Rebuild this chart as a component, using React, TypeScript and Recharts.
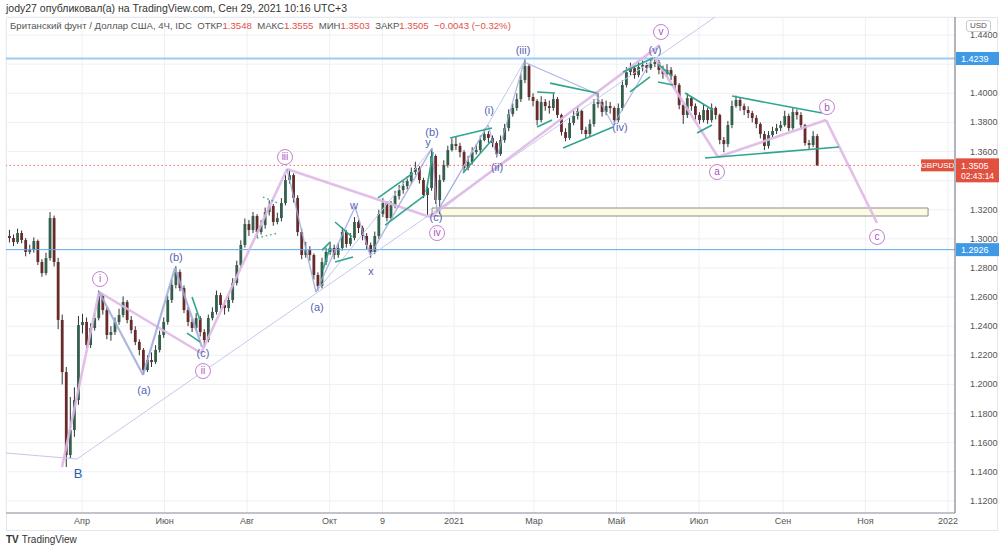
import React from 'react';
import {
  ComposedChart,
  Bar,
  XAxis,
  YAxis,
  CartesianGrid,
  ReferenceLine,
  ReferenceDot,
  ReferenceArea,
} from 'recharts';

// ---------- time grid (days counted from 1 Jan 2020) ----------
const FIRST_DAY = 37;
const DAY_STEP = 3;
const FIRST_OPEN = 1.302;

// ---------- GBPUSD price path ----------
const closes = [
  1.3006, 1.2978, 1.304, 1.2992, 1.291, 1.2923, 1.2985, 1.2841, 1.2765, 1.2868,
  1.3143, 1.2841, 1.2443, 1.2085, 1.1515, 1.1687, 1.1893, 1.2408, 1.2429, 1.2271,
  1.2388, 1.2456, 1.2607, 1.2511, 1.234, 1.236, 1.2429, 1.2477, 1.2566, 1.2443,
  1.2374, 1.2292, 1.2237, 1.2099, 1.2168, 1.2154, 1.2237, 1.234, 1.2429, 1.258,
  1.2683, 1.2772, 1.2662, 1.2511, 1.2429, 1.2388, 1.2456, 1.236, 1.2305, 1.2456,
  1.2498, 1.2614, 1.2546, 1.2525, 1.258, 1.2697, 1.282, 1.2958, 1.3102, 1.3061,
  1.3157, 1.3047, 1.3095, 1.3184, 1.3226, 1.3116, 1.3143, 1.3246, 1.3404, 1.3438,
  1.3281, 1.3047, 1.2889, 1.2923, 1.2889, 1.2752, 1.2676, 1.2841, 1.291, 1.2937,
  1.2889, 1.2937, 1.3047, 1.2965, 1.3006, 1.3116, 1.3074, 1.302, 1.2958, 1.291,
  1.302, 1.3171, 1.3246, 1.3143, 1.3232, 1.3294, 1.3335, 1.3363, 1.3397, 1.3459,
  1.3487, 1.3404, 1.3301, 1.3349, 1.3569, 1.3267, 1.3404, 1.3507, 1.361, 1.3651,
  1.3638, 1.3596, 1.3487, 1.3528, 1.3596, 1.361, 1.3679, 1.372, 1.3693, 1.3658,
  1.3583, 1.3679, 1.3761, 1.3857, 1.3899, 1.396, 1.4091, 1.4187, 1.3974, 1.3947,
  1.3816, 1.394, 1.3912, 1.3899, 1.396, 1.3851, 1.3734, 1.3693, 1.3796, 1.3844,
  1.3878, 1.3748, 1.372, 1.3789, 1.3926, 1.394, 1.3871, 1.3912, 1.3899, 1.3816,
  1.3899, 1.4057, 1.4146, 1.4173, 1.4125, 1.418, 1.4194, 1.4173, 1.4201, 1.4215,
  1.416, 1.4132, 1.416, 1.4118, 1.4057, 1.3919, 1.3851, 1.3967, 1.3912, 1.3851,
  1.3816, 1.3885, 1.3816, 1.3899, 1.3851, 1.3679, 1.3651, 1.3782, 1.3912, 1.3954,
  1.3912, 1.3885, 1.3864, 1.383, 1.3789, 1.372, 1.3638, 1.3713, 1.3741, 1.3761,
  1.3782, 1.3844, 1.3761, 1.3871, 1.3851, 1.3782, 1.3658, 1.3645, 1.3706, 1.3505,
];
const highs = [
  1.3062, 1.303, 1.307, 1.3058, 1.3005, 1.296, 1.301, 1.2995, 1.286, 1.2905,
  1.3184, 1.316, 1.287, 1.248, 1.212, 1.1914, 1.198, 1.247, 1.2485, 1.246,
  1.242, 1.249, 1.2645, 1.2625, 1.253, 1.24, 1.246, 1.252, 1.2605, 1.258,
  1.247, 1.24, 1.231, 1.225, 1.22, 1.222, 1.227, 1.237, 1.246, 1.261,
  1.272, 1.2812, 1.279, 1.268, 1.253, 1.245, 1.249, 1.247, 1.238, 1.248,
  1.253, 1.2645, 1.263, 1.258, 1.261, 1.273, 1.285, 1.299, 1.314, 1.313,
  1.3185, 1.317, 1.313, 1.3215, 1.3265, 1.324, 1.318, 1.328, 1.344, 1.3475,
  1.345, 1.33, 1.307, 1.298, 1.295, 1.29, 1.277, 1.287, 1.294, 1.298,
  1.296, 1.297, 1.308, 1.306, 1.304, 1.315, 1.313, 1.309, 1.304, 1.2975,
  1.305, 1.32, 1.328, 1.326, 1.326, 1.333, 1.337, 1.34, 1.343, 1.349,
  1.353, 1.35, 1.342, 1.338, 1.362, 1.358, 1.344, 1.354, 1.364, 1.369,
  1.37, 1.366, 1.361, 1.357, 1.363, 1.365, 1.371, 1.3757, 1.374, 1.371,
  1.367, 1.371, 1.379, 1.389, 1.393, 1.4, 1.413, 1.424, 1.42, 1.4,
  1.396, 1.398, 1.396, 1.395, 1.4, 1.3975, 1.386, 1.376, 1.383, 1.388,
  1.3915, 1.389, 1.377, 1.382, 1.396, 1.4005, 1.396, 1.395, 1.394, 1.391,
  1.393, 1.409, 1.418, 1.421, 1.419, 1.4215, 1.4225, 1.421, 1.423, 1.4249,
  1.423, 1.419, 1.42, 1.418, 1.413, 1.407, 1.393, 1.4, 1.398, 1.393,
  1.387, 1.392, 1.39, 1.393, 1.391, 1.386, 1.37, 1.381, 1.395, 1.3984,
  1.397, 1.393, 1.391, 1.388, 1.385, 1.38, 1.374, 1.374, 1.377, 1.379,
  1.381, 1.388, 1.386, 1.39, 1.389, 1.387, 1.379, 1.368, 1.374, 1.372,
];
const lows = [
  1.2975, 1.295, 1.2965, 1.297, 1.288, 1.2895, 1.2905, 1.282, 1.274, 1.275,
  1.285, 1.281, 1.238, 1.2, 1.1433, 1.149, 1.164, 1.186, 1.235, 1.2245,
  1.225, 1.237, 1.244, 1.248, 1.231, 1.23, 1.234, 1.241, 1.246, 1.242,
  1.235, 1.227, 1.22, 1.2068, 1.2085, 1.212, 1.214, 1.222, 1.232, 1.241,
  1.256, 1.266, 1.264, 1.249, 1.24, 1.236, 1.237, 1.233, 1.2255, 1.229,
  1.244, 1.248, 1.252, 1.248, 1.25, 1.256, 1.268, 1.28, 1.294, 1.302,
  1.304, 1.301, 1.303, 1.307, 1.316, 1.309, 1.31, 1.312, 1.323, 1.338,
  1.325, 1.302, 1.286, 1.287, 1.285, 1.272, 1.2645, 1.266, 1.282, 1.289,
  1.286, 1.287, 1.292, 1.294, 1.295, 1.299, 1.304, 1.299, 1.293, 1.287,
  1.2895, 1.3, 1.315, 1.312, 1.313, 1.321, 1.327, 1.331, 1.334, 1.338,
  1.344, 1.338, 1.328, 1.3165, 1.333, 1.324, 1.317, 1.339, 1.349, 1.36,
  1.361, 1.356, 1.346, 1.347, 1.351, 1.358, 1.359, 1.367, 1.366, 1.363,
  1.356, 1.357, 1.366, 1.374, 1.384, 1.388, 1.394, 1.407, 1.395, 1.391,
  1.378, 1.38, 1.388, 1.386, 1.388, 1.383, 1.371, 1.367, 1.368, 1.378,
  1.382, 1.372, 1.369, 1.37, 1.377, 1.39, 1.384, 1.385, 1.386, 1.38,
  1.38, 1.388, 1.404, 1.412, 1.41, 1.411, 1.415, 1.414, 1.416, 1.418,
  1.413, 1.41, 1.411, 1.409, 1.403, 1.389, 1.379, 1.383, 1.388, 1.382,
  1.379, 1.38, 1.379, 1.38, 1.382, 1.365, 1.3595, 1.363, 1.376, 1.39,
  1.388, 1.385, 1.383, 1.38, 1.376, 1.369, 1.361, 1.362, 1.37, 1.372,
  1.374, 1.377, 1.374, 1.375, 1.382, 1.376, 1.364, 1.361, 1.363, 1.35,
];

// ---------- axes ----------
const X_DOMAIN = [34.8, 736.2];
const Y_DOMAIN = [1.1117, 1.4524];
const tickDays = [91, 152, 213, 274, 313, 366, 425, 486, 547, 609, 670, 731];
const tickLabels = ['Апр', 'Июн', 'Авг', 'Окт', '9', '2021', 'Мар', 'Май', 'Июл', 'Сен', 'Ноя', '2022'];
const priceTicks = [1.12, 1.14, 1.16, 1.18, 1.2, 1.22, 1.24, 1.26, 1.28, 1.3, 1.32, 1.34, 1.36, 1.38, 1.4, 1.42, 1.44];
const coveredPriceTicks = [1.34, 1.42];

// ---------- levels ----------
const resistanceLevel = 1.4239;
const supportLevel = 1.2926;
const lastPrice = 1.3505;
const zoneDays = [349.7, 716.3];
const zonePrices = [1.3157, 1.3212];

// ---------- wave paths [day, price] ----------
const pinkWave1 = [[76.2, 1.1433], [103.6, 1.2635], [179, 1.2216], [242.5, 1.348], [348.2, 1.315], [518.2, 1.4331]];
const pinkWave2 = [[514.5, 1.4242], [561, 1.3562], [640.9, 1.3816], [678.6, 1.3109]];
const blueWave1 = [[103.6, 1.2635], [136.1, 1.2065], [159.7, 1.28], [179.7, 1.2257]];
const blueWave2 = [[242.5, 1.348], [263.9, 1.2635], [292.8, 1.3219], [303.9, 1.2889], [349.7, 1.3624], [353.4, 1.3184]];
const blueWave3 = [[353.4, 1.3184], [391.1, 1.3782], [397.7, 1.3562], [417.7, 1.4215], [470.2, 1.4002], [483.5, 1.3782], [513, 1.4242]];
const thinTrend = [[34.8, 1.1529], [87.3, 1.1488], [558.9, 1.4524]];
const thinLinks = [
  [[263.9, 1.2635], [349.7, 1.3624]],
  [[353.4, 1.3184], [417.7, 1.4215]],
];
const tealLines = [
  [[172.3, 1.2601], [178.2, 1.2443]],
  [[168.6, 1.2353], [178.2, 1.2292]],
  [[268.4, 1.2923], [274.3, 1.2978]],
  [[269.1, 1.2786], [274.3, 1.2944]],
  [[278, 1.3116], [290.6, 1.3013]],
  [[278, 1.2841], [291.3, 1.2875]],
  [[309.8, 1.3281], [335.6, 1.3452]],
  [[315, 1.3095], [344.5, 1.3301]],
  [[345.3, 1.3322], [350.4, 1.3596]],
  [[363, 1.3693], [394, 1.3761]],
  [[372.6, 1.3452], [394, 1.3679]],
  [[427.3, 1.4009], [440.6, 1.4002]],
  [[427.3, 1.3768], [438.4, 1.3816]],
  [[436.9, 1.407], [471.6, 1.4002]],
  [[446.5, 1.3624], [483.5, 1.3768]],
  [[490.9, 1.4146], [513, 1.4242]],
  [[496, 1.4009], [510.8, 1.4112]],
  [[516.7, 1.4201], [527.1, 1.4118]],
  [[516.7, 1.4077], [527.8, 1.4057]],
  [[536.7, 1.4002], [557.4, 1.3885]],
  [[545.6, 1.3727], [556.6, 1.3782]],
  [[571.4, 1.3981], [637.9, 1.3864]],
  [[551.5, 1.3555], [650.5, 1.3631]],
];
const tealDotted = [
  [[224.8, 1.3287], [235.9, 1.3246]],
  [[220.3, 1.3006], [235.9, 1.304]],
];

// ---------- labels ----------
const circleTexts = ['i', 'ii', 'iii', 'iv', 'v', 'a', 'b', 'c'];
const circleDays = [104.3, 180.4, 241, 353.4, 518.9, 560.3, 641.6, 678.6];
const circlePrices = [1.2724, 1.2092, 1.3562, 1.304, 1.4421, 1.3459, 1.3905, 1.3013];
const waveTexts = ['(a)', '(b)', '(c)', '(a)', 'w', 'x', 'y', '(b)', '(c)', '(i)', '(ii)', '(iii)', '(iv)', '(v)'];
const waveDays = [136.8, 160.5, 180.4, 264.7, 292, 304.6, 346.7, 349.7, 352.6, 391.8, 397.7, 416.9, 488.6, 514.5];
const wavePrices = [1.1962, 1.2875, 1.2216, 1.2532, 1.3232, 1.2779, 1.3665, 1.3734, 1.315, 1.3885, 1.3493, 1.4297, 1.3768, 1.4297];
const bigLabel = { text: 'B', day: 88, price: 1.1392 };

// ---------- styles ----------
const UP = '#345f4c';
const DOWN = '#672b2b';
const WICK = '#333333';
const PINK = '#dfb8e6';
const PINK_DARK = '#c47fd4';
const PINK_TEXT = '#a950c0';
const BLUE_WAVE = '#9ea9dc';
const BLUE_TEXT = '#5463b3';
const THIN = '#c3c9ea';
const TEAL = '#2fa58f';
const TAG_BLUE = '#3f9ae6';
const TAG_RED = '#e2513f';
const FONT = '"Liberation Sans", Arial, sans-serif';

const candles = closes.map((c, i) => ({
  day: FIRST_DAY + i * DAY_STEP,
  open: i === 0 ? FIRST_OPEN : closes[i - 1],
  high: highs[i],
  low: lows[i],
  close: c,
}));

const Candle = (props: any) => {
  const { x, y, width, height, payload } = props;
  if (x == null || y == null || !payload) return null;
  const { open, close, high, low } = payload;
  const top = Math.min(y, y + height);
  const bot = Math.max(y, y + height);
  const span = high - low;
  const ppu = span > 0 ? (bot - top) / span : 0;
  const py = (v: number) => top + (high - v) * ppu;
  const cx = x + width / 2;
  const up = close >= open;
  const bTop = py(Math.max(open, close));
  const bH = Math.max(1, Math.abs(py(open) - py(close)));
  return (
    <g>
      <line x1={cx} x2={cx} y1={top} y2={bot} stroke={WICK} strokeWidth={1} />
      <rect x={cx - 1.4} y={bTop} width={2.8} height={bH} fill={up ? UP : DOWN} />
    </g>
  );
};

const priceTag = (text: string, bg: string) => (props: any) => {
  const vb = props.viewBox || {};
  const x = (vb.x || 0) + (vb.width || 0);
  const y = vb.y || 0;
  return (
    <g>
      <rect x={x + 1} y={y - 6.5} width={43} height={13} fill={bg} />
      <text x={x + 6} y={y + 3.3} fontSize={9} fill="#fff" fontFamily={FONT}>{text}</text>
    </g>
  );
};

const lastTag = (props: any) => {
  const vb = props.viewBox || {};
  const x = (vb.x || 0) + (vb.width || 0);
  const y = vb.y || 0;
  return (
    <g>
      <rect x={x - 34} y={y - 6} width={33} height={12} fill={TAG_RED} />
      <text x={x - 17.5} y={y + 3} textAnchor="middle" fontSize={8} fill="#fff" fontFamily={FONT}>GBPUSD</text>
      <rect x={x + 1} y={y - 7} width={43} height={24} fill={TAG_RED} />
      <text x={x + 6} y={y + 3.3} fontSize={9} fill="#fff" fontFamily={FONT}>1.3505</text>
      <text x={x + 6} y={y + 13.5} fontSize={8.5} fill="#fff" fontFamily={FONT}>02:43:14</text>
    </g>
  );
};

const segs = (pts: number[][]) => pts.slice(1).map((p, i) => [pts[i], p]);

const renderSegments = (list: number[][][], stroke: string, width: number, keyBase: string, dash?: string, opacity = 1) =>
  list.map((s, i) => (
    <ReferenceLine
      key={keyBase + i}
      segment={[{ x: s[0][0], y: s[0][1] }, { x: s[1][0], y: s[1][1] }]}
      stroke={stroke}
      strokeWidth={width}
      strokeDasharray={dash}
      strokeOpacity={opacity}
      ifOverflow="visible"
    />
  ));

const YTick = (props: any) => {
  const { x, y, payload } = props;
  const v = payload.value;
  if (coveredPriceTicks.some((t) => Math.abs(t - v) < 1e-6)) return null;
  return (
    <text x={x + 7} y={y + 3} fontSize={9} fill="#555" fontFamily={FONT}>
      {v.toFixed(4)}
    </text>
  );
};

export default function App() {
  return (
    <div style={{ position: 'absolute', left: 0, top: 0, width: 1000, height: 553, background: '#fff', overflow: 'hidden', fontFamily: FONT }}>
      <div style={{ position: 'absolute', left: 6, top: 17, width: 992, height: 514, border: '1px solid #e3e6ec', boxSizing: 'border-box' }} />
      <ComposedChart
        width={1000}
        height={553}
        data={candles}
        margin={{ top: 17, right: 2, left: 6, bottom: 0 }}
        style={{ position: 'absolute', left: 0, top: 0 }}
      >
        <CartesianGrid stroke="#eef0f5" />
        <XAxis
          dataKey="day"
          type="number"
          domain={X_DOMAIN}
          allowDataOverflow
          ticks={tickDays}
          tickFormatter={(v: number) => tickLabels[tickDays.indexOf(v)] ?? ''}
          height={40}
          tickLine={false}
          tickSize={0}
          tickMargin={5}
          axisLine={{ stroke: '#8d9099' }}
          tick={{ fontSize: 9, fill: '#555', fontFamily: FONT }}
        />
        <YAxis
          orientation="right"
          type="number"
          domain={Y_DOMAIN}
          allowDataOverflow
          ticks={priceTicks}
          width={43}
          tickLine={false}
          axisLine={{ stroke: '#6f737c' }}
          tick={<YTick />}
        />
        <ReferenceArea
          x1={zoneDays[0]}
          x2={zoneDays[1]}
          y1={zonePrices[0]}
          y2={zonePrices[1]}
          fill="#fdfbe3"
          fillOpacity={1}
          stroke="#8c8c8c"
          strokeWidth={1}
          ifOverflow="visible"
        />
        <ReferenceLine y={supportLevel} stroke="#5aa9ee" strokeWidth={1} label={priceTag('1.2926', TAG_BLUE)} />
        <ReferenceLine y={resistanceLevel} stroke="#9ccaf3" strokeWidth={2.2} label={priceTag('1.4239', TAG_BLUE)} />
        {renderSegments(segs(thinTrend), THIN, 1, 'tt')}
        {renderSegments(thinLinks, THIN, 1, 'tl')}
        {renderSegments(segs(pinkWave1), PINK, 2.6, 'p1', undefined, 0.9)}
        {renderSegments(segs(pinkWave2), PINK, 2.6, 'p2', undefined, 0.9)}
        {renderSegments(segs(blueWave1), BLUE_WAVE, 2.2, 'b1', undefined, 0.85)}
        {renderSegments(segs(blueWave2), BLUE_WAVE, 1.4, 'b2', undefined, 0.85)}
        {renderSegments(segs(blueWave3), BLUE_WAVE, 1.2, 'b3', undefined, 0.85)}
        <Bar dataKey={(d: any) => [d.low, d.high]} barSize={3} shape={Candle} isAnimationActive={false} />
        {renderSegments(tealLines, TEAL, 1.6, 'tl2')}
        {renderSegments(tealDotted, TEAL, 1.4, 'td', '1.5 3')}
        <ReferenceLine y={lastPrice} stroke="#ec6a5e" strokeDasharray="1.5 2.5" strokeWidth={1} label={lastTag} />
        {circleTexts.map((t, i) => (
          <ReferenceDot
            key={'c' + i}
            x={circleDays[i]}
            y={circlePrices[i]}
            ifOverflow="visible"
            shape={(p: any) => (
              <g>
                <circle cx={p.cx} cy={p.cy} r={7.5} fill="#fff" stroke={PINK_DARK} strokeWidth={1} />
                <text x={p.cx} y={p.cy + 3.4} textAnchor="middle" fontSize={10} fill={PINK_TEXT} fontFamily={FONT}>{t}</text>
              </g>
            )}
          />
        ))}
        {waveTexts.map((t, i) => (
          <ReferenceDot
            key={'w' + i}
            x={waveDays[i]}
            y={wavePrices[i]}
            ifOverflow="visible"
            shape={(p: any) => (
              <text x={p.cx} y={p.cy + 4} textAnchor="middle" fontSize={11} fill={BLUE_TEXT} fontFamily={FONT}>{t}</text>
            )}
          />
        ))}
        <ReferenceDot
          x={bigLabel.day}
          y={bigLabel.price}
          ifOverflow="visible"
          shape={(p: any) => (
            <text x={p.cx} y={p.cy + 5} textAnchor="middle" fontSize={13} fill="#2a5db0" fontFamily={FONT}>{bigLabel.text}</text>
          )}
        />
      </ComposedChart>
      <div style={{ position: 'absolute', left: 6, top: 2, fontSize: 10.5, color: '#333', whiteSpace: 'nowrap' }}>
        jody27 опубликовал(а) на TradingView.com, Сен 29, 2021 10:16 UTC+3
      </div>
      <div style={{ position: 'absolute', left: 10, top: 20, fontSize: 9.6, color: '#555', whiteSpace: 'nowrap' }}>
        Британский фунт / Доллар США, 4Ч, IDC&nbsp;&nbsp;ОТКР<span style={{ color: '#e0514b' }}>1.3548</span>&nbsp;&nbsp;МАКС<span style={{ color: '#e0514b' }}>1.3555</span>&nbsp;&nbsp;МИН<span style={{ color: '#e0514b' }}>1.3503</span>&nbsp;&nbsp;ЗАКР<span style={{ color: '#e0514b' }}>1.3505</span>&nbsp;&nbsp;<span style={{ color: '#e0514b' }}>−0.0043 (−0.32%)</span>
      </div>
      <div style={{ position: 'absolute', left: 966, top: 20, fontSize: 8, color: '#555', border: '1px solid #ccc', borderRadius: 3, padding: '0 3px', lineHeight: '10px' }}>USD</div>
      <div style={{ position: 'absolute', left: 6, top: 534, fontSize: 10, color: '#333', whiteSpace: 'nowrap' }}>
        <span style={{ fontWeight: 700, marginRight: 3 }}>TV</span>TradingView
      </div>
    </div>
  );
}
